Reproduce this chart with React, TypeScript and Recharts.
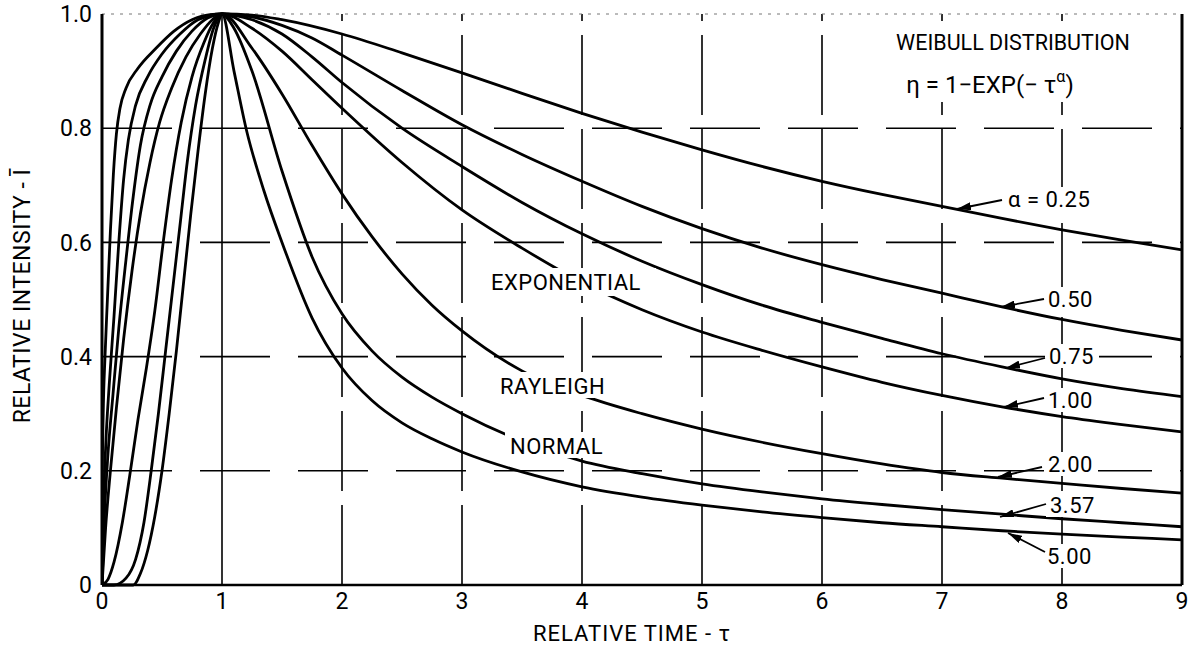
import React from 'react';
import { LineChart, Line, XAxis, YAxis, ReferenceLine } from 'recharts';

// axis ticks
const tauTicks = [0, 1, 2, 3, 4, 5, 6, 7, 8, 9];
const intensityTicks = [0, 0.2, 0.4, 0.6, 0.8, 1.0];
const tauGrid = [2, 3, 4, 5, 6, 7, 8];
const intensityGrid = [0.2, 0.4, 0.6, 0.8];

// [tau, relative intensity], one list per Weibull alpha
const alpha025 = [
  [0, 0], [0.003, 0.2], [0.01, 0.3], [0.025, 0.4], [0.045, 0.5], [0.07, 0.62], [0.095, 0.72],
  [0.12, 0.79], [0.15, 0.835], [0.2, 0.87], [0.3, 0.905], [0.45, 0.94], [0.6, 0.97], [0.75, 0.99],
  [0.9, 0.999], [1, 1], [1.25, 0.998], [1.5, 0.99], [2, 0.965], [2.5, 0.932], [3, 0.897],
  [3.5, 0.861], [4, 0.826], [4.5, 0.793], [5, 0.762], [5.5, 0.733], [6, 0.707], [6.5, 0.684],
  [7, 0.663], [7.5, 0.642], [8, 0.622], [8.5, 0.604], [9, 0.587],
];
const alpha050 = [
  [0, 0], [0.01, 0.12], [0.03, 0.24], [0.06, 0.35], [0.1, 0.47], [0.14, 0.6], [0.18, 0.71],
  [0.22, 0.78], [0.28, 0.84], [0.38, 0.89], [0.5, 0.93], [0.65, 0.965], [0.8, 0.99], [1, 1],
  [1.25, 0.995], [1.5, 0.98], [1.75, 0.958], [2, 0.928], [2.5, 0.866], [3, 0.806], [3.5, 0.754],
  [4, 0.707], [4.5, 0.663], [5, 0.624], [5.5, 0.59], [6, 0.561], [6.5, 0.535], [7, 0.511],
  [7.5, 0.487], [8, 0.465], [8.5, 0.446], [9, 0.429],
];
const alpha075 = [
  [0, 0], [0.02, 0.12], [0.05, 0.23], [0.09, 0.33], [0.14, 0.45], [0.2, 0.57], [0.26, 0.68],
  [0.32, 0.77], [0.4, 0.84], [0.5, 0.89], [0.62, 0.935], [0.75, 0.97], [0.88, 0.993], [1, 1],
  [1.25, 0.99], [1.5, 0.965], [1.75, 0.925], [2, 0.88], [2.5, 0.8], [3, 0.733], [3.5, 0.67],
  [4, 0.615], [4.5, 0.567], [5, 0.526], [5.5, 0.49], [6, 0.46], [6.5, 0.432], [7, 0.405],
  [7.5, 0.382], [8, 0.361], [8.5, 0.344], [9, 0.33],
];
const alpha100 = [
  [0, 0], [0.03, 0.1], [0.07, 0.2], [0.12, 0.31], [0.18, 0.43], [0.25, 0.55], [0.32, 0.65],
  [0.4, 0.74], [0.48, 0.81], [0.58, 0.87], [0.7, 0.925], [0.82, 0.965], [0.92, 0.99], [1, 1],
  [1.25, 0.975], [1.5, 0.935], [1.75, 0.885], [2, 0.835], [2.5, 0.74], [3, 0.657], [3.5, 0.59],
  [4, 0.53], [4.5, 0.482], [5, 0.443], [5.5, 0.411], [6, 0.382], [6.5, 0.355], [7, 0.332],
  [7.5, 0.312], [8, 0.295], [8.5, 0.281], [9, 0.268],
];
const alpha200 = [
  [0, 0], [0.05, 0.01], [0.1, 0.04], [0.17, 0.11], [0.23, 0.19], [0.3, 0.29], [0.37, 0.38],
  [0.44, 0.48], [0.51, 0.6], [0.58, 0.71], [0.66, 0.81], [0.75, 0.89], [0.85, 0.95], [0.93, 0.985],
  [1, 1], [1.25, 0.94], [1.5, 0.86], [1.75, 0.77], [2, 0.685], [2.25, 0.61], [2.5, 0.545],
  [2.75, 0.49], [3, 0.445], [3.5, 0.375], [4, 0.332], [4.5, 0.3], [5, 0.273], [5.5, 0.25],
  [6, 0.23], [6.5, 0.212], [7, 0.197], [7.5, 0.187], [8, 0.178], [8.5, 0.169], [9, 0.161],
];
const alpha357 = [
  [0, 0], [0.1, 0], [0.2, 0.012], [0.28, 0.045], [0.35, 0.11], [0.41, 0.2], [0.47, 0.3],
  [0.53, 0.41], [0.59, 0.52], [0.65, 0.63], [0.71, 0.74], [0.78, 0.84], [0.86, 0.92], [0.93, 0.975],
  [1, 1], [1.1, 0.975], [1.25, 0.9], [1.5, 0.725], [1.75, 0.575], [2, 0.475], [2.25, 0.41],
  [2.5, 0.364], [2.75, 0.329], [3, 0.3], [3.5, 0.252], [4, 0.217], [4.5, 0.195], [5, 0.177],
  [5.5, 0.163], [6, 0.151], [6.5, 0.141], [7, 0.132], [7.5, 0.124], [8, 0.116], [8.5, 0.109],
  [9, 0.102],
];
const alpha500 = [
  [0, 0], [0.26, 0], [0.32, 0.02], [0.38, 0.06], [0.44, 0.12], [0.5, 0.2], [0.56, 0.3],
  [0.62, 0.41], [0.68, 0.53], [0.74, 0.65], [0.8, 0.76], [0.86, 0.86], [0.92, 0.94], [0.97, 0.985],
  [1, 1], [1.1, 0.9], [1.2, 0.8], [1.35, 0.69], [1.5, 0.6], [1.75, 0.468], [2, 0.38],
  [2.25, 0.323], [2.5, 0.284], [2.75, 0.256], [3, 0.233], [3.5, 0.198], [4, 0.172], [4.5, 0.154],
  [5, 0.14], [5.5, 0.128], [6, 0.118], [6.5, 0.109], [7, 0.102], [7.5, 0.095], [8, 0.089],
  [8.5, 0.084], [9, 0.079],
];

const series = [alpha025, alpha050, alpha075, alpha100, alpha200, alpha357, alpha500];

// right-hand callouts: text box + arrow pointing at the curve (pixels)
const callouts = [
  { text: 'α = 0.25', x: 1008, y: 199, from: [1002, 200], to: [957, 209] },
  { text: '0.50', x: 1048, y: 299, from: [1044, 299], to: [1001, 307] },
  { text: '0.75', x: 1049, y: 356, from: [1045, 358], to: [1006, 368] },
  { text: '1.00', x: 1048, y: 400, from: [1044, 398], to: [1004, 407] },
  { text: '2.00', x: 1048, y: 464, from: [1042, 467], to: [998, 477] },
  { text: '3.57', x: 1050, y: 505, from: [1046, 504], to: [1000, 517] },
  { text: '5.00', x: 1047, y: 556, from: [1045, 552], to: [1008, 533] },
];

// curve names written across the curves
const curveNames = [
  { text: 'EXPONENTIAL', x: 491, y: 282, box: [486, 268, 170, 28] },
  { text: 'RAYLEIGH', x: 500, y: 386, box: [495, 372, 121, 26] },
  { text: 'NORMAL', x: 510, y: 446, box: [505, 432, 107, 26] },
];

const font = 'Roboto, sans-serif';

const Overlay = () => (
  <svg width={1192} height={645} style={{ position: 'absolute', left: 0, top: 0, pointerEvents: 'none' }}>
    <defs>
      <marker id="head" markerWidth={14} markerHeight={8} refX={14} refY={4} orient="auto" markerUnits="userSpaceOnUse">
        <path d="M0,0 L14,4 L0,8 z" fill="#000" />
      </marker>
    </defs>
    {curveNames.map(c => (
      <g key={c.text}>
        <rect x={c.box[0]} y={c.box[1]} width={c.box[2]} height={c.box[3]} fill="#fff" />
        <text x={c.x} y={c.y} dominantBaseline="central" fontFamily={font} fontSize={22} fill="#000" letterSpacing={0.5}>{c.text}</text>
      </g>
    ))}
    {callouts.map(c => (
      <g key={c.text}>
        <rect x={c.x - 4} y={c.y - 12} width={c.text.length * 12 + 6} height={24} fill="#fff" />
        <line x1={c.from[0]} y1={c.from[1]} x2={c.to[0]} y2={c.to[1]} stroke="#000" strokeWidth={1.8} markerEnd="url(#head)" />
        <text x={c.x} y={c.y} dominantBaseline="central" fontFamily={font} fontSize={22} fill="#000" letterSpacing={0.5}>{c.text}</text>
      </g>
    ))}
    <rect x={890} y={26} width={250} height={76} fill="#fff" />
    <text x={1013} y={42} textAnchor="middle" dominantBaseline="central" fontFamily={font} fontSize={21.5} fill="#000">WEIBULL DISTRIBUTION</text>
    <text x={990} y={93} textAnchor="middle" fontFamily={font} fontSize={24} fill="#000">
      η = 1−EXP(− τ<tspan dy={-11} fontSize={16}>α</tspan><tspan dy={11}>)</tspan>
    </text>
    <text x={632} y={633} textAnchor="middle" dominantBaseline="central" fontFamily={font} fontSize={22} fill="#000" letterSpacing={1}>RELATIVE TIME - τ</text>
    <text x={22} y={296} textAnchor="middle" dominantBaseline="central" fontFamily={font} fontSize={23} fill="#000" letterSpacing={0.5} transform="rotate(-90 22 296)">RELATIVE INTENSITY - Ī</text>
  </svg>
);

const App = () => {
  const tickStyle = { fontFamily: font, fontSize: 23, fill: '#000' };
  return (
    <div style={{ position: 'absolute', left: 0, top: 0, width: 1192, height: 645, background: '#fff' }}>
      <LineChart width={1192} height={645} margin={{ top: 14, right: 10, bottom: 20, left: 40 }}>
        <XAxis
          dataKey="t"
          type="number"
          domain={[0, 9]}
          ticks={tauTicks}
          tick={tickStyle}
          tickLine={false}
          axisLine={{ stroke: '#000', strokeWidth: 2.5 }}
          height={40}
          allowDataOverflow
        />
        <YAxis
          type="number"
          domain={[0, 1]}
          ticks={intensityTicks}
          tick={tickStyle}
          tickFormatter={(v: number) => (v === 0 ? '0' : v.toFixed(1))}
          tickLine={false}
          tickMargin={4}
          axisLine={{ stroke: '#000', strokeWidth: 3 }}
          width={62}
        />
        <ReferenceLine x={1} stroke="#000" strokeWidth={1.6} />
        {tauGrid.map(t => (
          <ReferenceLine key={`vx${t}`} x={t} stroke="#000" strokeWidth={1.6} strokeDasharray="80 14" />
        ))}
        {intensityGrid.map(v => (
          <ReferenceLine key={`hy${v}`} y={v} stroke="#000" strokeWidth={1.6} strokeDasharray="70 28" />
        ))}
        <ReferenceLine y={1} stroke="#777" strokeWidth={1} strokeDasharray="3 6" />
        <ReferenceLine x={9} stroke="#000" strokeWidth={3} />
        {series.map((pts, i) => (
          <Line
            key={i}
            data={pts.map(([t, v]) => ({ t, v }))}
            dataKey="v"
            type="monotone"
            stroke="#000"
            strokeWidth={2.8}
            dot={false}
            isAnimationActive={false}
          />
        ))}
      </LineChart>
      <Overlay />
    </div>
  );
};

export default App;
